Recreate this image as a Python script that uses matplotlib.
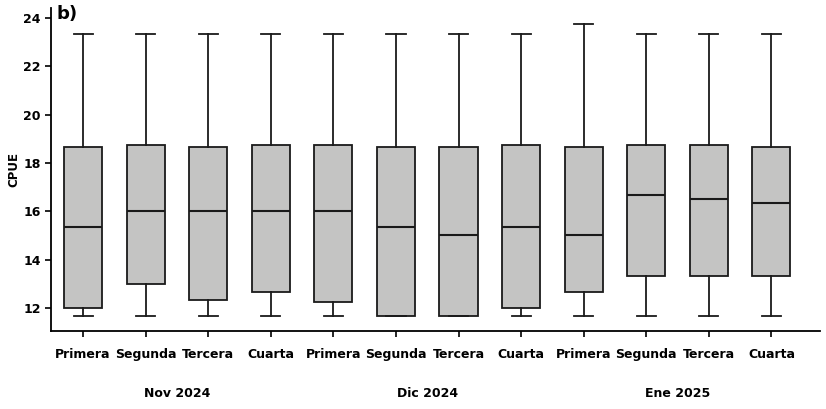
import matplotlib.pyplot as plt

weeks = ["Primera", "Segunda", "Tercera", "Cuarta"]
months = ["Nov 2024", "Dic 2024", "Ene 2025"]

# one entry per box (Nov x4, Dic x4, Ene x4)
whislo = [11.67] * 12
q1 = [12.0, 13.0, 12.33, 12.67, 12.25, 11.67, 11.67, 12.0, 12.67, 13.33, 13.33, 13.33]
med = [15.33, 16.0, 16.0, 16.0, 16.0, 15.33, 15.0, 15.33, 15.0, 16.67, 16.5, 16.33]
q3 = [18.67, 18.75, 18.67, 18.75, 18.75, 18.67, 18.67, 18.75, 18.67, 18.75, 18.75, 18.67]
whishi = [23.33, 23.33, 23.33, 23.33, 23.33, 23.33, 23.33, 23.33, 23.75, 23.33, 23.33, 23.33]

stats = []
for i in range(len(q1)):
    stats.append({"whislo": whislo[i], "q1": q1[i], "med": med[i],
                  "q3": q3[i], "whishi": whishi[i], "fliers": []})

fig = plt.figure(figsize=(8.26, 4.09), dpi=100)
ax = fig.add_axes([0.062, 0.191, 0.931, 0.789])

pos = list(range(len(stats)))
ax.bxp(stats, positions=pos, widths=0.61, patch_artist=True, showfliers=False,
       boxprops=dict(facecolor="#c4c4c3", edgecolor="#1a1a1a", linewidth=1.3),
       medianprops=dict(color="#1a1a1a", linewidth=1.5),
       whiskerprops=dict(color="#1a1a1a", linewidth=1.3),
       capprops=dict(color="#1a1a1a", linewidth=1.3))

ax.set_xlim(-0.51, 11.78)
ax.set_ylim(11.05, 24.4)
ax.set_yticks([12, 14, 16, 18, 20, 22, 24])
ax.set_xticks(pos)
ax.set_xticklabels(weeks * len(months), fontsize=9, fontweight="bold")
ax.tick_params(axis="x", pad=8, length=4, width=1.2)
ax.tick_params(axis="y", labelsize=9, length=4, width=1.2)
for lab in ax.get_yticklabels():
    lab.set_fontweight("bold")

ax.spines["top"].set_visible(False)
ax.spines["right"].set_visible(False)
ax.spines["left"].set_linewidth(1.3)
ax.spines["bottom"].set_linewidth(1.3)

ax.set_ylabel("CPUE", fontsize=8.5, fontweight="bold", labelpad=2)

for g, m in enumerate(months):
    ax.text(g * 4 + 1.5, -0.195, m, transform=ax.get_xaxis_transform(),
            ha="center", va="center", fontsize=9, fontweight="bold")

ax.text(0.007, 0.982, "b)", transform=ax.transAxes, ha="left", va="center",
        fontsize=13, fontweight="bold")

fig.savefig("out.png", dpi=100)
